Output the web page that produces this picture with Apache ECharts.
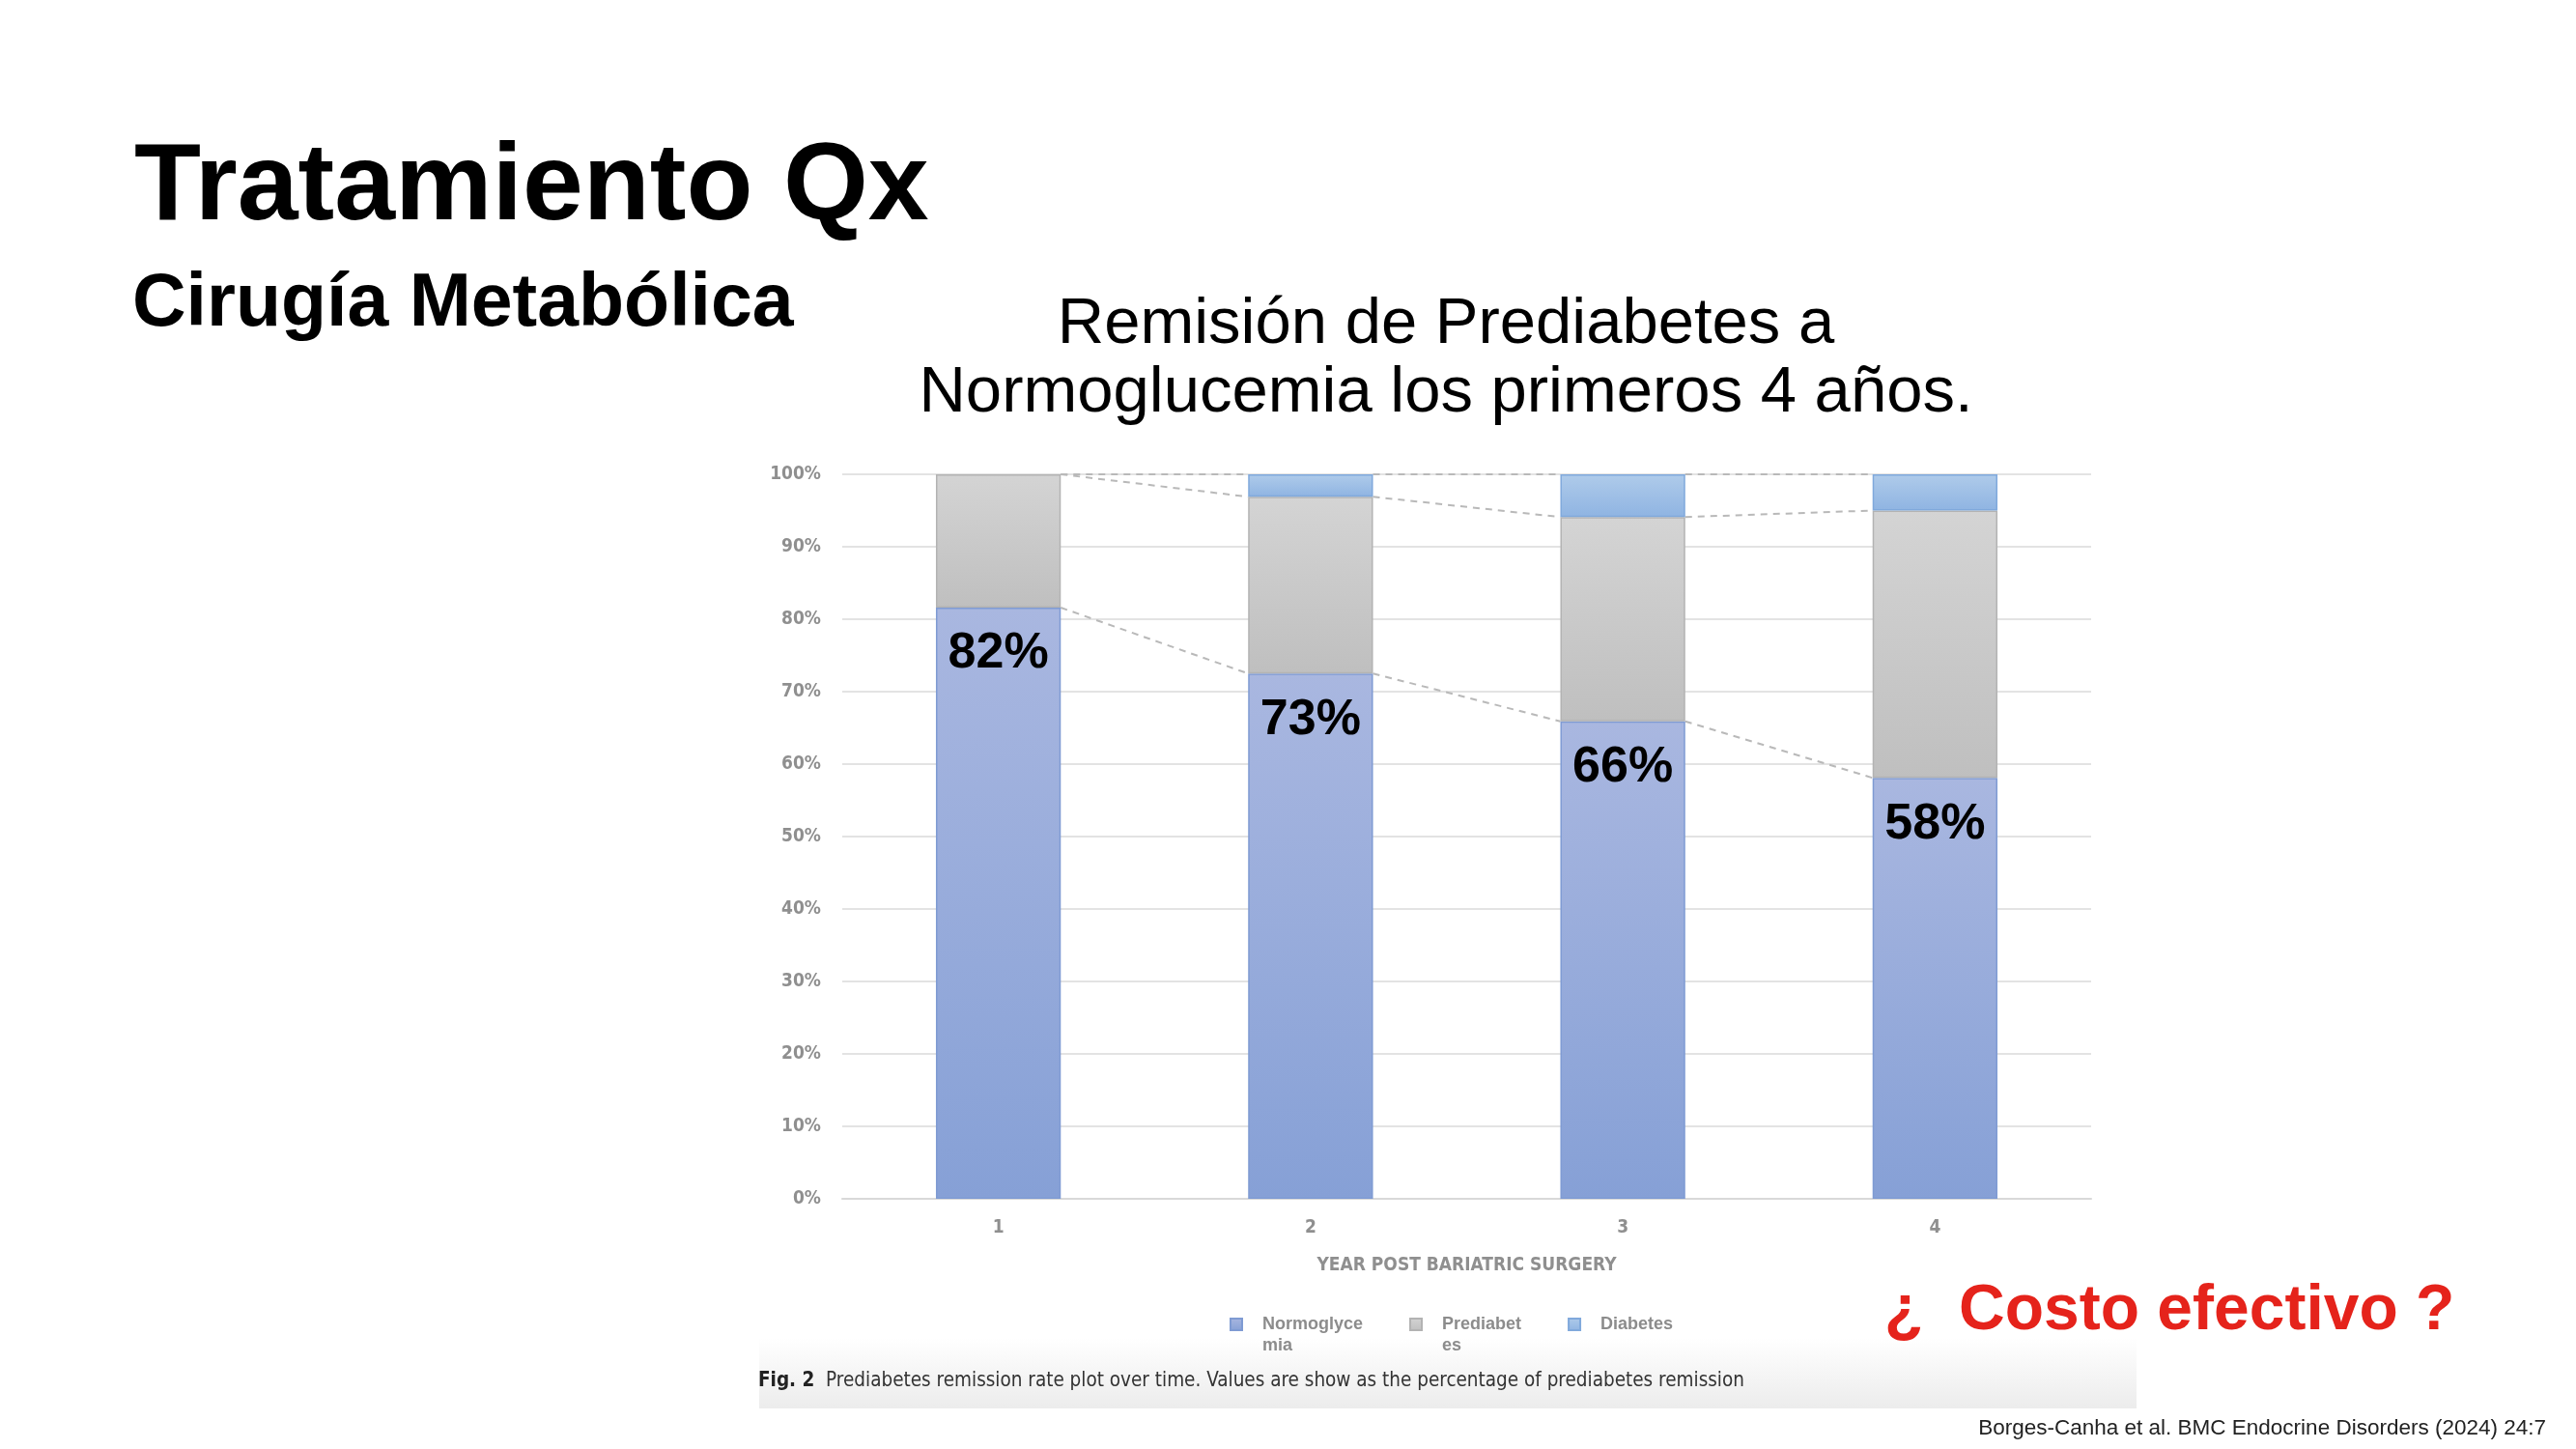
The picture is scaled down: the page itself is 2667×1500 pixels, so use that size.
<!DOCTYPE html>
<html>
<head>
<meta charset="utf-8">
<script src="https://cdn.jsdelivr.net/npm/echarts@6/dist/echarts.min.js"></script>
<style>
html, body { margin: 0; padding: 0; background: #fff; }
#main { width: 2667px; height: 1500px; }
</style>
</head>
<body>
<div id="main"></div>
<script>
// datos (porcentaje por año)
var years = ['1', '2', '3', '4'];
var normoglycemia = [81.6, 72.5, 65.9, 58.1];
var prediabetes = [18.4, 24.4, 28.2, 36.9];
var diabetes = [0, 3.1, 5.9, 5.0];
var barLabels = ['82%', '73%', '66%', '58%'];
var yTicks = [0, 10, 20, 30, 40, 50, 60, 70, 80, 90, 100];
var seriesNames = ['Normoglycemia', 'Prediabetes', 'Diabetes'];
// texto partido como en la figura; linea vacia arriba para centrar el icono en la primera linea
var legendText = {
    'Normoglycemia': ' \nNormoglyce\nmia',
    'Prediabetes': ' \nPrediabet\nes',
    'Diabetes': ' \nDiabetes\n '
};

var chart = echarts.init(document.getElementById('main'));

// techo de cada segmento apilado, para las lineas de serie punteadas
var tops = [[], [], []];
for (var i = 0; i < years.length; i++) {
    tops[0].push(normoglycemia[i]);
    tops[1].push(+(normoglycemia[i] + prediabetes[i]).toFixed(2));
    tops[2].push(+(normoglycemia[i] + prediabetes[i] + diabetes[i]).toFixed(2));
}
var connectors = [];
for (var k = 0; k < tops.length; k++) {
    for (var j = 0; j < years.length - 1; j++) {
        connectors.push([j, tops[k][j], tops[k][j + 1]]);
    }
}

function grad(top, bottom) {
    return new echarts.graphic.LinearGradient(0, 0, 0, 1, [
        { offset: 0, color: top },
        { offset: 1, color: bottom }
    ]);
}

var axisGrey = '#8f8f8f';
var narrow = '"Liberation Sans Narrow", "DejaVu Sans Condensed", sans-serif';
var helv = '"Liberation Sans", Arial, sans-serif';

option = {
    backgroundColor: '#fff',
    animation: false,
    grid: {
        left: 872,
        right: 502,
        top: 491,
        bottom: 259,
        containLabel: false
    },
    legend: {
        data: seriesNames,
        left: 1268,
        top: 1333,
        icon: 'rect',
        itemWidth: 12,
        itemHeight: 12,
        itemGap: 48,
        formatter: function (name) { return legendText[name]; },
        textStyle: {
            color: '#8c8c8c',
            fontFamily: helv,
            fontWeight: 'bold',
            fontSize: 18,
            lineHeight: 22,
            padding: [0, 0, 0, 16]
        }
    },
    xAxis: {
        type: 'category',
        data: years,
        name: 'YEAR POST BARIATRIC SURGERY',
        nameLocation: 'middle',
        nameGap: 60,
        nameTextStyle: {
            color: axisGrey,
            fontFamily: narrow,
            fontWeight: 'bold',
            fontSize: 19,
            verticalAlign: 'top'
        },
        axisLine: { lineStyle: { color: '#d9d9d9', width: 2 } },
        axisTick: { show: false },
        axisLabel: {
            color: axisGrey,
            fontFamily: narrow,
            fontWeight: 'bold',
            fontSize: 19,
            margin: 21
        }
    },
    yAxis: {
        type: 'value',
        min: yTicks[0],
        max: yTicks[yTicks.length - 1],
        interval: yTicks[1] - yTicks[0],
        axisLine: { show: false },
        axisTick: { show: false },
        splitLine: { lineStyle: { color: '#e3e3e3', width: 2 } },
        axisLabel: {
            color: axisGrey,
            fontFamily: narrow,
            fontWeight: 'bold',
            fontSize: 19,
            margin: 22,
            formatter: '{value}%'
        }
    },
    series: [
        {
            name: seriesNames[0],
            type: 'bar',
            stack: 'total',
            barWidth: '40%',
            data: normoglycemia,
            itemStyle: {
                color: grad('#a9b7e0', '#86a0d6'),
                borderColor: '#7f9bd3',
                borderWidth: 1.5
            },
            label: {
                show: true,
                position: 'insideTop',
                distance: 22,
                color: '#000',
                fontFamily: helv,
                fontWeight: 'bold',
                fontSize: 52,
                formatter: function (p) { return barLabels[p.dataIndex]; }
            }
        },
        {
            name: seriesNames[1],
            type: 'bar',
            stack: 'total',
            barWidth: '40%',
            data: prediabetes,
            itemStyle: {
                color: grad('#d4d4d4', '#bfbfbf'),
                borderColor: '#b3b3b3',
                borderWidth: 1.5
            }
        },
        {
            name: seriesNames[2],
            type: 'bar',
            stack: 'total',
            barWidth: '40%',
            data: diabetes.map(function (v) { return v === 0 ? null : v; }),
            itemStyle: {
                color: grad('#afcbea', '#8fb4e2'),
                borderColor: '#80a9dc',
                borderWidth: 1.5
            }
        },
        {
            // lineas de serie entre barras
            name: 'conectores',
            type: 'custom',
            data: connectors,
            encode: { x: 0, y: [1, 2] },
            silent: true,
            renderItem: function (params, api) {
                var idx = api.value(0);
                var a = api.coord([idx, api.value(1)]);
                var b = api.coord([idx + 1, api.value(2)]);
                var half = api.size([1, 0])[0] * 0.2;
                return {
                    type: 'line',
                    shape: { x1: a[0] + half, y1: a[1], x2: b[0] - half, y2: b[1] },
                    style: { stroke: '#b9b9b9', lineWidth: 2, lineDash: [7, 6] }
                };
            }
        }
    ],
    graphic: [
        {
            type: 'rect',
            x: 786, y: 1385, z: -10,
            shape: { width: 1426, height: 73 },
            style: { fill: grad('#ffffff', '#ececec') }
        },
        {
            type: 'text',
            x: 139, y: 196, z: 10,
            style: {
                text: 'Tratamiento Qx',
                font: 'bold 113px ' + helv,
                fill: '#000',
                verticalAlign: 'middle'
            }
        },
        {
            type: 'text',
            x: 137, y: 316,
            style: {
                text: 'Cirugía Metabólica',
                font: 'bold 77px ' + helv,
                fill: '#000',
                verticalAlign: 'middle'
            }
        },
        {
            type: 'text',
            x: 1497, y: 372,
            style: {
                text: 'Remisión de Prediabetes a\nNormoglucemia los primeros 4 años.',
                font: '67px ' + helv,
                lineHeight: 71,
                fill: '#000',
                align: 'center',
                verticalAlign: 'middle'
            }
        },
        {
            type: 'text',
            x: 785, y: 1430,
            style: {
                text: '{b|Fig. 2}  Prediabetes remission rate plot over time. Values are show as the percentage of prediabetes remission',
                font: '20.5px ' + narrow,
                fill: '#333',
                verticalAlign: 'middle',
                rich: {
                    b: { font: 'bold 20.5px ' + narrow, fill: '#222' }
                }
            }
        },
        {
            type: 'text',
            x: 1951, y: 1358,
            style: {
                text: '¿  Costo efectivo ?',
                font: 'bold 66px ' + helv,
                fill: '#e5231b',
                verticalAlign: 'middle'
            }
        },
        {
            type: 'text',
            x: 2636, y: 1479,
            style: {
                text: 'Borges-Canha et al. BMC Endocrine Disorders (2024) 24:7',
                font: '22.5px ' + helv,
                fill: '#222',
                align: 'right',
                verticalAlign: 'middle'
            }
        }
    ]
};
chart.setOption(option);
</script>
</body>
</html>
